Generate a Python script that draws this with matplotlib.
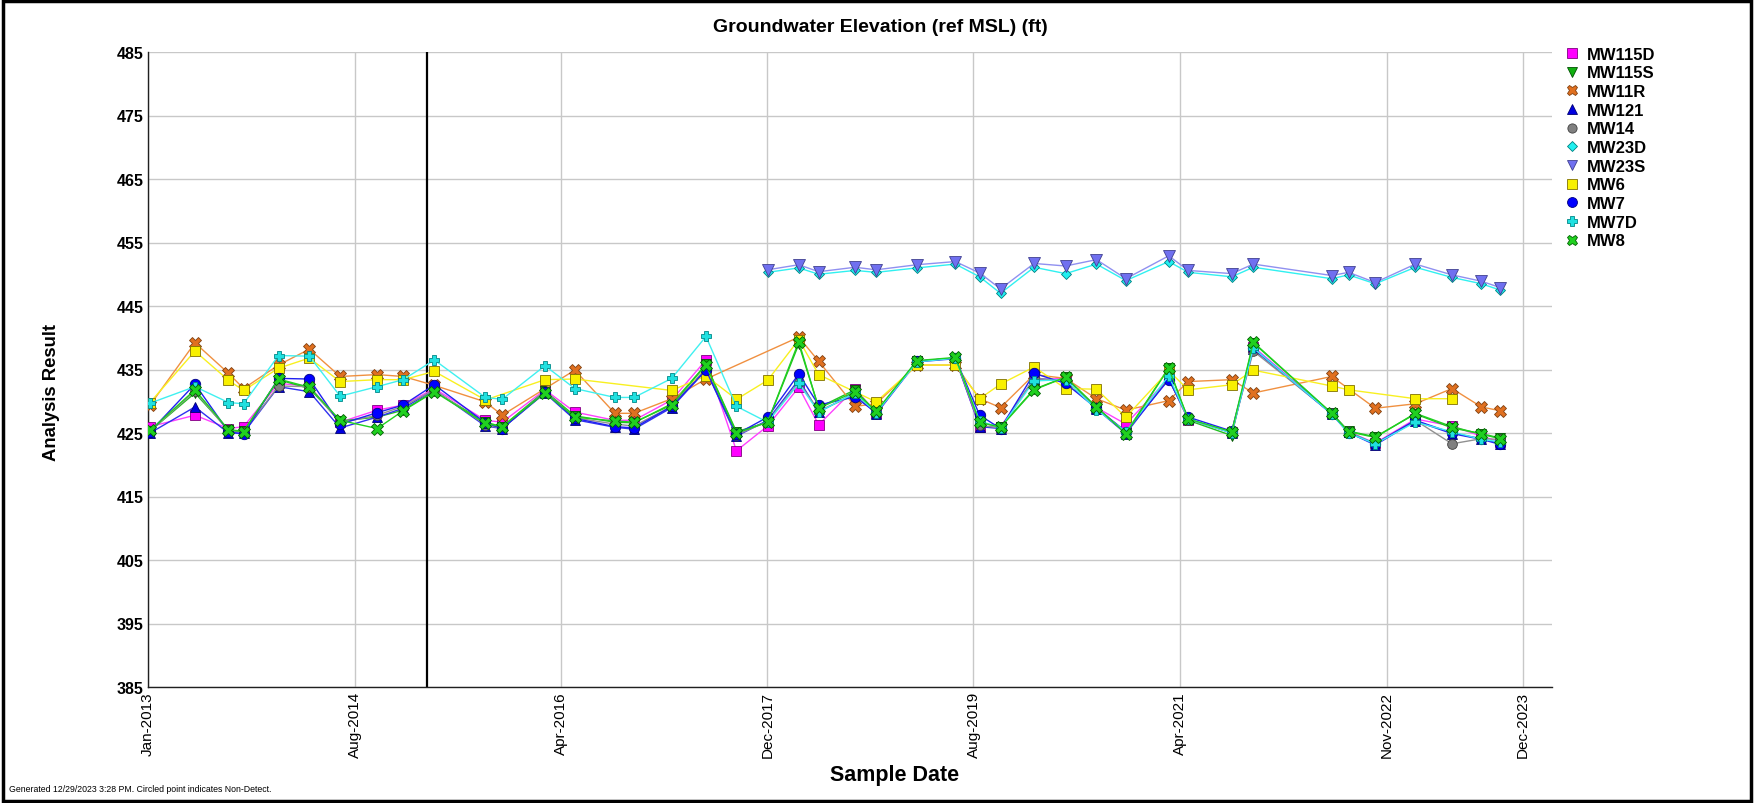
import matplotlib
matplotlib.use("Agg")
import matplotlib.pyplot as plt
import matplotlib.dates as mdates
from matplotlib.lines import Line2D
from matplotlib.patches import Rectangle
import numpy as np
import pandas as pd

plt.rcParams['font.family'] = ['Liberation Sans', 'DejaVu Sans']

title = "Groundwater Elevation (ref MSL) (ft)"
footer = "Generated 12/29/2023 3:28 PM. Circled point indicates Non-Detect."

dates = ["2013-01-07", "2013-05-18", "2013-08-24", "2013-10-07", "2014-01-17", "2014-04-17",
         "2014-07-16", "2014-11-01", "2015-01-16", "2015-04-17", "2015-09-13", "2015-11-01",
         "2016-03-05", "2016-05-31", "2016-09-25", "2016-11-20", "2017-03-10", "2017-06-18",
         "2017-09-15", "2017-12-15", "2018-03-16", "2018-05-13", "2018-08-27", "2018-10-28",
         "2019-02-24", "2019-06-16", "2019-08-26", "2019-10-26", "2020-02-01", "2020-05-03",
         "2020-08-01", "2020-10-26", "2021-02-28", "2021-04-26", "2021-08-31", "2021-11-02",
         "2022-06-19", "2022-08-07", "2022-10-24", "2023-02-18", "2023-06-05", "2023-08-30",
         "2023-10-24"]

N = None
mw115d = [426.0, 427.8, 425.7, 426.0, 432.8, 432.4, 426.7, 428.6, 429.4, 432.0, 427.0, 426.7,
          431.8, 428.3, 427.0, 427.0, 430.2, 436.5, 422.2, 426.1, 432.2, 426.3, 432.0, 428.2,
          436.3, 436.8, 426.0, 426.0, 433.4, 433.6, 429.0, 426.4, 433.6, 427.1, 425.2, 438.6,
          428.1, 425.2, 423.4, 427.2, 426.1, 424.5, 423.6]
mw115s = [425.3, 431.3, 425.5, 425.3, 433.4, 432.0, 426.9, 427.5, 428.6, 431.6, 426.7, 426.0,
          431.6, 427.7, 426.7, 426.6, 429.6, 435.8, 425.2, 426.7, 439.0, 429.0, 431.8, 428.3,
          436.3, 436.8, 426.6, 426.0, 431.9, 433.8, 429.0, 425.0, 435.3, 427.0, 424.6, 439.2,
          428.1, 425.3, 424.4, 428.0, 425.8, 424.9, 424.2]
mw11r = [429.4, 439.2, 434.4, 432.0, 435.7, 438.2, 433.9, 434.2, 433.9, 432.5, 429.9, 427.8,
         N, 434.9, 428.1, 428.1, 430.4, 433.5, N, N, 440.1, 436.3, 429.2, 429.6,
         435.7, 435.7, 430.4, 429.0, 434.2, 433.6, 430.4, 428.6, 430.1, 433.1, 433.4, 431.3,
         433.9, N, 428.9, 429.6, 432.0, 429.1, 428.5]
mw121 = [425.0, 429.1, 425.0, 425.0, 432.3, 431.5, 425.8, 427.5, 428.9, 431.8, 426.1, 425.7,
         431.3, 427.1, 425.9, 425.6, 429.0, 434.9, 424.5, 427.0, 433.4, 428.3, 431.3, 428.0,
         436.2, 436.7, 426.0, 425.7, 433.6, 433.2, 428.8, 424.9, 433.6, 427.2, 425.0, 438.2,
         428.0, 425.1, 423.1, 426.9, 424.9, 424.0, 423.2]
mw14 = [425.3, 431.6, 425.3, 425.2, 432.4, 432.3, 426.6, 427.8, 429.2, 431.8, 426.3, 425.7,
        431.5, 427.4, 426.4, 426.1, 429.2, 435.2, 424.7, 426.8, 433.0, 428.5, 431.0, 428.2,
        436.3, 436.8, 426.2, 425.8, 433.6, 433.2, 429.0, 425.2, 433.6, 427.1, 425.1, 437.9,
        428.1, 425.2, 423.3, 427.0, 423.3, 424.1, 424.0]
mw23d = [N] * 19 + [450.3, 451.0, 450.0, 450.6, 450.3, 451.0, 451.6, 449.6, 447.0, 451.1, 450.1,
                    451.6, 449.0, 452.0, 450.3, 449.6, 451.1, 449.3, 449.9, 448.5, 451.1, 449.5,
                    448.5, 447.5]
mw23s = [N] * 19 + [450.7, 451.5, 450.4, 451.1, 450.7, 451.5, 452.0, 450.2, 447.7, 451.7, 451.3,
                    452.3, 449.3, 452.9, 450.6, 450.1, 451.6, 449.8, 450.3, 448.7, 451.6, 449.9,
                    448.9, 447.9]
mw6 = [429.8, 437.9, 433.3, 431.7, 435.2, 436.8, 433.1, 433.4, 433.4, 434.7, 430.2, N,
       433.4, 433.5, N, N, 431.7, 434.0, 430.3, 433.3, 439.7, 434.2, N, 429.9,
       435.7, 435.7, 430.4, 432.7, 435.4, 432.0, 431.9, 427.5, 434.8, 431.8, 432.6, 434.9,
       432.4, 431.8, N, 430.4, 430.4, N, N]
mw7 = [425.2, 432.7, 425.2, 424.8, 433.6, 433.5, 426.4, 428.2, 429.4, 432.6, 426.6, 425.7,
       431.4, 427.3, 426.0, 425.8, 429.2, 434.9, 424.8, 427.5, 434.3, 429.4, 430.7, 428.2,
       436.3, 436.8, 427.8, 425.7, 434.4, 432.8, 428.9, 425.2, 433.4, 427.5, 425.3, 438.4,
       428.0, 425.0, 423.3, 427.0, 425.0, 424.1, 423.3]
mw7d = [429.7, 432.3, 429.8, 429.6, 437.2, 437.1, 430.8, 432.3, 433.4, 436.5, 430.6, 430.3,
        435.6, 432.0, 430.6, 430.6, 433.6, 440.2, 429.2, 426.7, 432.8, 428.3, 431.3, 428.2,
        436.2, 436.8, 426.9, 425.8, 433.2, 433.4, 428.7, 425.2, 434.0, 427.2, 425.0, 438.4,
        428.0, 425.0, 423.3, 426.7, 425.2, 424.0, 423.6]
mw8 = [425.4, 431.8, 425.5, 425.2, 433.5, 432.2, 427.0, 425.7, 428.5, 431.5, 426.5, 426.0,
       431.3, 427.5, 426.9, 426.7, 429.4, 435.7, 425.0, 426.7, 439.4, 428.9, 431.5, 428.4,
       436.4, 436.9, 426.7, 425.9, 431.8, 433.8, 429.1, 424.9, 435.2, 427.2, 425.2, 439.3,
       428.1, 425.2, 424.3, 428.1, 426.0, 424.8, 424.1]

well_names = ["MW115D", "MW115S", "MW11R", "MW121", "MW14", "MW23D", "MW23S", "MW6", "MW7", "MW7D", "MW8"]
well_values = [mw115d, mw115s, mw11r, mw121, mw14, mw23d, mw23s, mw6, mw7, mw7d, mw8]

tick_dates = ["2013-01-01", "2014-08-27", "2016-04-21", "2017-12-14", "2019-08-08",
              "2021-04-03", "2022-11-26", "2023-12-29"]
tick_labels = ["Jan-2013", "Aug-2014", "Apr-2016", "Dec-2017", "Aug-2019",
               "Apr-2021", "Nov-2022", "Dec-2023"]
x_start, x_end = "2013-01-01", "2024-03-23"
event_date = "2015-03-28"
y_ticks = list(range(385, 486, 10))

# styles: (marker, face, edge, line colour, size)
styles = {
    "MW115D": ("s", "#FF00FF", "#800080", "#FF40FF", 7),
    "MW115S": ("v", "#10B010", "#005000", "#20C020", 7.5),
    "MW11R": ("X", "#E07020", "#804010", "#F09040", 8),
    "MW121": ("^", "#0000E0", "#000070", "#3030F0", 7.5),
    "MW14": ("o", "#808080", "#404040", "#909090", 7),
    "MW23D": ("D", "#20F0F0", "#008080", "#30F0F0", 5.5),
    "MW23S": ("v", "#7070F0", "#404090", "#9090F0", 8),
    "MW6": ("s", "#F8F000", "#807000", "#F8F020", 7.5),
    "MW7": ("o", "#0000FF", "#000080", "#2020F0", 7.5),
    "MW7D": ("P", "#20E0E0", "#008888", "#40F0F0", 7.5),
    "MW8": ("X", "#20D020", "#006000", "#20D020", 8),
}

W, H = 1754, 804
fig = plt.figure(figsize=(W / 100, H / 100), dpi=100)
ax = fig.add_axes([148 / W, 1 - 688 / H, (1552 - 148) / W, (688 - 53) / H])

x = pd.to_datetime(dates)
handles = []
for name, vals in zip(well_names, well_values):
    mk, fc, ec, lc, ms = styles[name]
    y = np.array([np.nan if v is None else v for v in vals], dtype=float)
    m = ~np.isnan(y)
    ax.plot(x[m], y[m], color=lc, lw=1.0, marker=mk, markersize=ms,
            markerfacecolor=fc, markeredgecolor=ec, markeredgewidth=0.6, zorder=3)
    handles.append(Line2D([], [], linestyle="none", marker=mk, markersize=ms * 0.95,
                          markerfacecolor=fc, markeredgecolor=ec, markeredgewidth=0.6, label=name))

ax.axvline(pd.Timestamp(event_date), color="black", lw=1.6, zorder=2)

ax.set_xlim(pd.Timestamp(x_start), pd.Timestamp(x_end))
ax.set_ylim(385, 485)
ax.set_yticks(y_ticks)
ax.set_yticklabels([str(v) for v in y_ticks], fontweight="bold", fontsize=11.5)
ax.set_xticks(pd.to_datetime(tick_dates))
ax.set_xticklabels(tick_labels, rotation=90, fontsize=11)
ax.tick_params(axis="both", length=0, pad=3)
ax.grid(True, color="#C8C8C8", lw=1.0, zorder=0)
ax.set_axisbelow(True)
for s in ["top", "right"]:
    ax.spines[s].set_visible(False)
for s in ["left", "bottom"]:
    ax.spines[s].set_color("#202020")
    ax.spines[s].set_linewidth(1.0)

fig.text(880 / W, 1 - 27 / H, title, ha="center", va="center", fontsize=14, fontweight="bold")
fig.text(52 / W, 1 - 393 / H, "Analysis Result", ha="center", va="center", rotation=90,
         fontsize=13.3, fontweight="bold")
fig.text(895 / W, 1 - 776 / H, "Sample Date", ha="center", va="center", fontsize=15.5, fontweight="bold")
fig.text(9 / W, 1 - 790 / H, footer, ha="left", va="center", fontsize=6.3)

leg = fig.legend(handles=handles, loc="upper left", bbox_to_anchor=(1557 / W, 1 - 41 / H),
                 frameon=False, prop={"weight": "bold", "size": 12}, handlelength=1.0,
                 handletextpad=0.4, labelspacing=0.22, borderaxespad=0)

fig.patches.append(Rectangle((0.0015, 0.002), 0.997, 0.995, transform=fig.transFigure,
                             fill=False, edgecolor="black", lw=2.5))

fig.savefig("out.png", dpi=100)
